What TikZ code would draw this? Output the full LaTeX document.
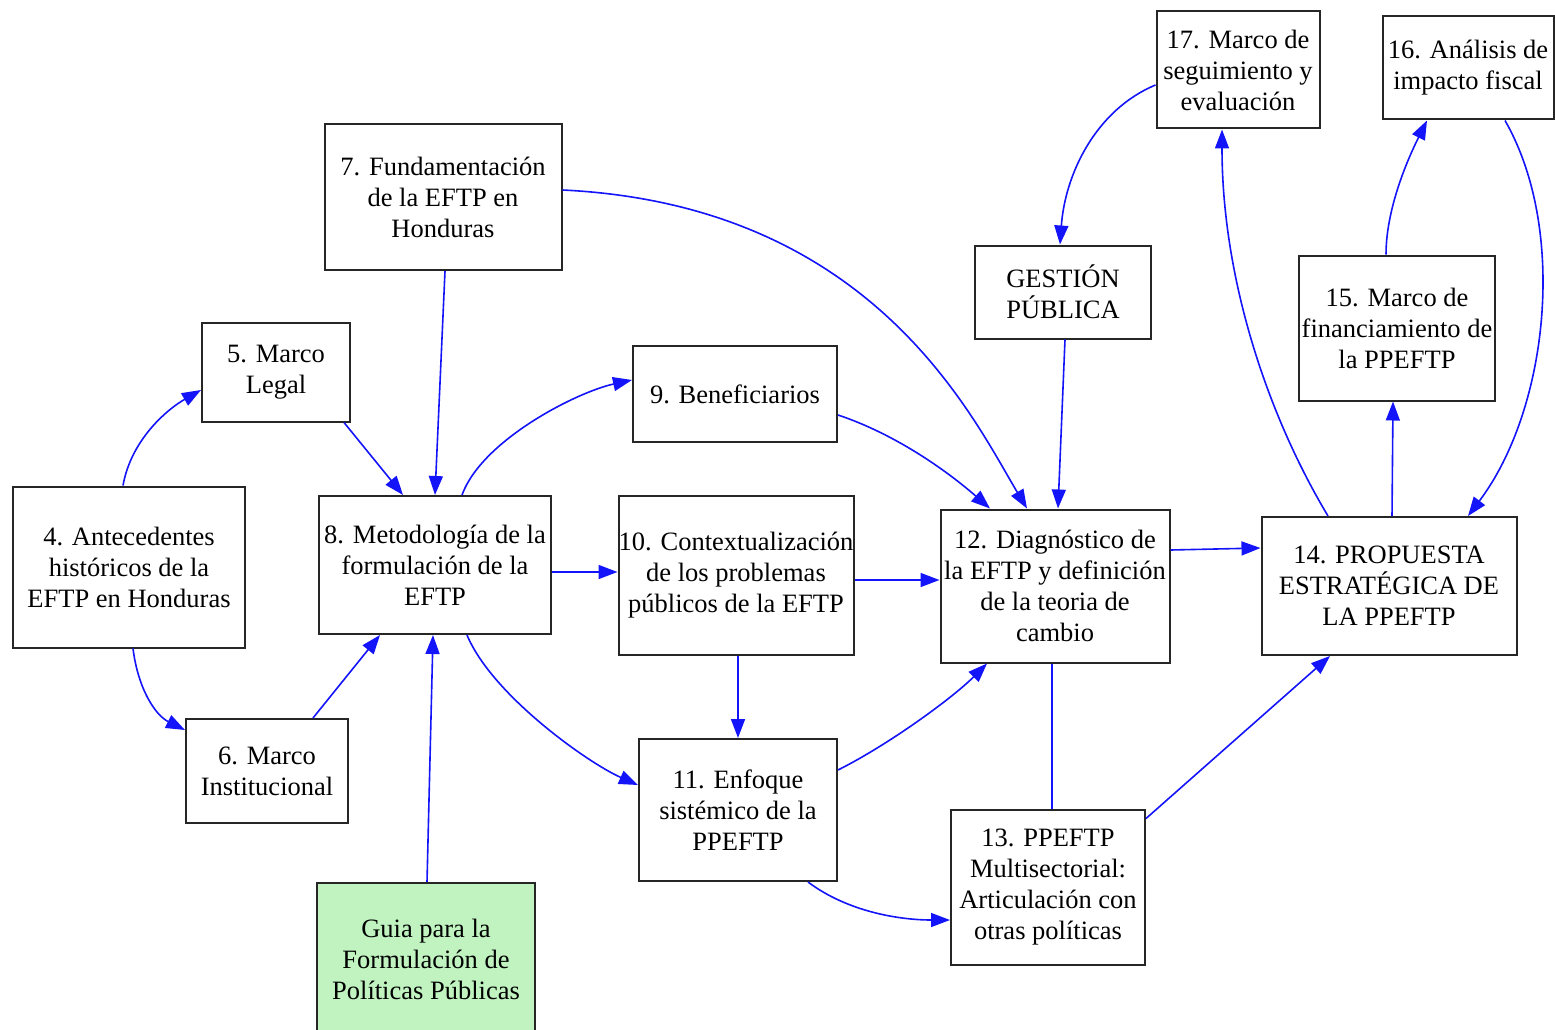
\documentclass[tikz,border=0pt]{standalone}
\usepackage{fontspec}
\setmainfont{Liberation Serif}
\usetikzlibrary{arrows.meta,calc}
\definecolor{guiagreen}{RGB}{192,243,192}
\definecolor{edgeblue}{RGB}{20,20,250}
\tikzset{
  box/.style={draw=black!85, line width=2pt, fill=white, align=center, inner sep=0pt,
    font=\fontsize{26.5}{31}\selectfont},
  conn/.style={draw=edgeblue, line width=1.6pt, -{Triangle[length=19pt,width=14pt]}},
  plain/.style={draw=edgeblue, line width=1.6pt}
}
\begin{document}
\begin{tikzpicture}[x=1pt,y=-1pt]
\fill[white] (0,0) rectangle (1555,1030);
\useasboundingbox (0,0) rectangle (1555,1030);
% nodes
\node[box, minimum width=232, minimum height=161] (n4) at (129,567) {4. Antecedentes\\históricos de la\\EFTP en Honduras};
\node[box, minimum width=148, minimum height=99] (n5) at (276,372) {5. Marco\\Legal};
\node[box, minimum width=162, minimum height=104] (n6) at (267,771) {6. Marco\\Institucional};
\node[box, minimum width=237, minimum height=146] (n7) at (443,197) {7. Fundamentación\\de la EFTP en\\Honduras};
\node[box, minimum width=232, minimum height=138] (n8) at (435,565) {8. Metodología de la\\formulación de la\\EFTP};
\node[box, minimum width=204, minimum height=96] (n9) at (735,394) {9. Beneficiarios};
\node[box, minimum width=235, minimum height=159] (n10) at (736,575) {10. Contextualización\\de los problemas\\públicos de la EFTP};
\node[box, minimum width=198, minimum height=142] (n11) at (738,810) {11. Enfoque\\sistémico de la\\PPEFTP};
\node[box, minimum width=176, minimum height=93] (gp) at (1063,292) {GESTIÓN\\PÚBLICA};
\node[box, minimum width=229, minimum height=153] (n12) at (1055,586) {12. Diagnóstico de\\la EFTP y definición\\de la teoria de\\cambio};
\node[box, minimum width=194, minimum height=155] (n13) at (1048,887) {13. PPEFTP\\Multisectorial:\\Articulación con\\otras políticas};
\node[box, minimum width=255, minimum height=138] (n14) at (1389,586) {14. PROPUESTA\\ESTRATÉGICA DE\\LA PPEFTP};
\node[box, minimum width=196, minimum height=145] (n15) at (1397,328) {15. Marco de\\financiamiento de\\la PPEFTP};
\node[box, minimum width=171, minimum height=103] (n16) at (1468,68) {16. Análisis de\\impacto fiscal};
\node[box, minimum width=163, minimum height=117] (n17) at (1238,70) {17. Marco de\\seguimiento y\\evaluación};
\node[box, fill=guiagreen, minimum width=218, minimum height=152] (g) at (426,959) {Guia para la\\Formulación de\\Políticas Públicas};
% edges
\draw[conn] ($(n4.north)+(-6,0)$) .. controls +(8,-45) and +(-35,20) .. ($(n5.west)+(0,18)$);
\draw[conn] ($(n4.south)+(4,0)$) .. controls +(5,40) and +(-30,-15) .. ($(n6.west)+(0,-41)$);
\draw[conn] ($(n5.south east)+(-7,0)$) -- ($(n8.north)+(-32,0)$);
\draw[conn] ($(n6.north)+(46,0)$) -- ($(n8.south)+(-55,0)$);
\draw[conn] ($(n7.south)+(2,0)$) -- (n8.north);
\draw[conn] ($(g.north)+(1,0)$) -- ($(n8.south)+(-2,0)$);
\draw[conn] ($(n8.north)+(27,0)$) .. controls +(20,-55) and +(-55,12) .. ($(n9.west)+(0,-14)$);
\draw[conn] ($(n8.east)+(0,7)$) -- ($(n10.west)+(0,-3)$);
\draw[conn] ($(n8.south)+(32,0)$) .. controls +(25,60) and +(-50,-22) .. ($(n11.west)+(0,-25)$);
\draw[conn] ($(n7.east)+(0,-7)$) .. controls +(310,15) and +(-55,-92) .. ($(n12.north)+(-28,0)$);
\draw[conn] ($(n9.east)+(0,21)$) .. controls +(60,20) and +(-40,-35) .. ($(n12.north)+(-65,0)$);
\draw[conn] ($(gp.south)+(2,0)$) -- ($(n12.north)+(3,0)$);
\draw[conn] ($(n10.east)+(0,5)$) -- ($(n12.west)+(0,-6)$);
\draw[conn] ($(n10.south)+(2,0)$) -- ($(n11.north)+(0,0)$);
\draw[conn] ($(n11.east)+(0,-40)$) .. controls +(50,-25) and +(-35,35) .. ($(n12.south)+(-68,0)$);
\draw[conn] ($(n11.south)+(70,0)$) .. controls +(40,30) and +(-50,0) .. ($(n13.west)+(0,33)$);
\draw[plain] ($(n12.south)+(-3,0)$) -- ($(n13.north)+(4,0)$);
\draw[conn] ($(n12.east)+(0,-36)$) -- ($(n14.west)+(0,-38)$);
\draw[conn] ($(n13.north east)+(0,10)$) -- ($(n14.south)+(-59,0)$);
\draw[conn] ($(n14.north)+(3,0)$) -- ($(n15.south)+(-4,0)$);
\draw[conn] ($(n14.north)+(-61,0)$) .. controls +(-60,-100) and +(0,150) .. ($(n17.south)+(-16,0)$);
\draw[conn] ($(n15.north)+(-11,0)$) .. controls +(0,-50) and +(-15,30) .. ($(n16.south)+(-41,0)$);
\draw[conn] ($(n16.south)+(37,0)$) .. controls +(63,110) and +(80,-106) .. ($(n14.north)+(79,0)$);
\draw[conn] ($(n17.west)+(0,15)$) .. controls +(-60,25) and +(5,-70) .. ($(gp.north)+(-3,0)$);
\end{tikzpicture}
\end{document}
